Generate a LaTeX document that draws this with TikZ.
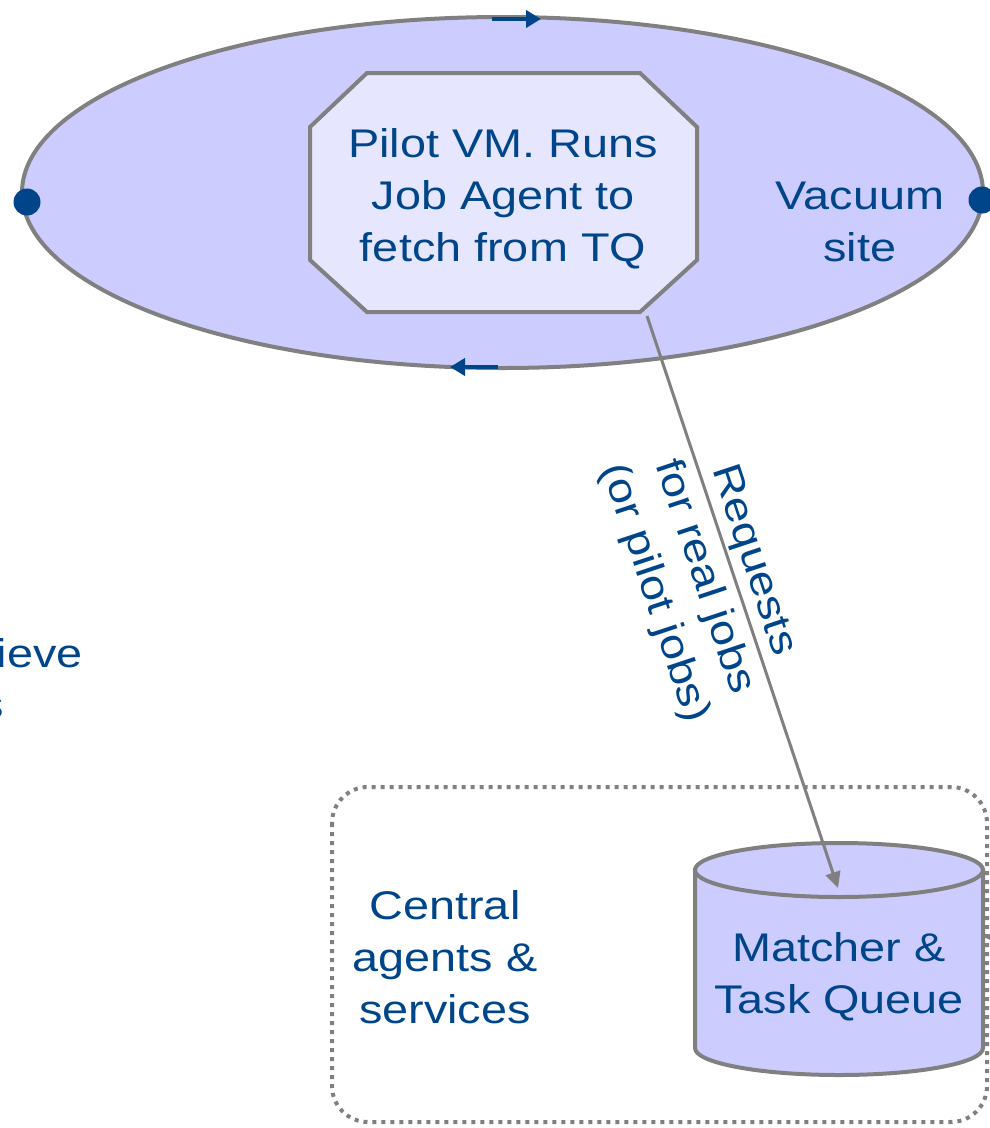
\documentclass[tikz,border=0pt]{standalone}
\usepackage{fontspec}
\setmainfont[FakeStretch=1.17]{Liberation Sans}
\usetikzlibrary{arrows.meta,shapes.geometric}
\definecolor{txtblue}{RGB}{0,69,138}
\definecolor{edgegray}{RGB}{128,128,128}
\definecolor{vacfill}{RGB}{204,204,255}
\definecolor{pilotfill}{RGB}{230,230,255}
\tikzset{
  lbl/.style={text=txtblue, font=\fontsize{40}{52}\selectfont, align=center, inner sep=0pt},
  shapeedge/.style={draw=edgegray, line width=4pt},
  flowarrow/.style={draw=txtblue, line width=4pt, -{Triangle[length=15pt,width=17pt]}},
  reqarrow/.style={draw=edgegray, line width=3pt, -{Triangle[length=16pt,width=15pt]}},
  dotbox/.style={draw=edgegray, line width=4pt, dash pattern=on 4pt off 5pt, rounded corners=36pt},
}
\begin{document}
\begin{tikzpicture}[x=1pt,y=-1pt]
\useasboundingbox (0,0) rectangle (989,1128);
% vacuum site ellipse
\node[ellipse, shapeedge, fill=vacfill, minimum width=961pt, minimum height=351pt, inner sep=0pt] (vac) at (502.5,192.5) {};
\node[lbl] (vaclbl) at (860,222) {Vacuum\\site};
% pilot VM octagon
\filldraw[shapeedge, fill=pilotfill, line join=miter] (367,73) -- (640,73) -- (697,127) -- (697,260) -- (640,312) -- (367,312) -- (310,260) -- (310,127) -- cycle;
\node[lbl] (pilot) at (503,199) {Pilot VM. Runs\\Job Agent to\\fetch from TQ};
% dots on ellipse
\fill[txtblue] (27,202) circle (13.5pt);
\fill[txtblue] (982,200) circle (13.5pt);
% circulation arrows
\coordinate (ta1) at (492,19);
\coordinate (ta2) at (541,19);
\draw[flowarrow] (ta1) -- (ta2);
\coordinate (ba1) at (498,367);
\coordinate (ba2) at (450,367);
\draw[flowarrow] (ba1) -- (ba2);
% partial left text
\node[lbl, anchor=base east] (lt1) at (83,667) {ieve};
\node[lbl, anchor=base east] (lt2) at (4,718) {s};
% central agents box
\draw[dotbox] (332,787) rectangle (987,1122);
\node[lbl] (central) at (445,957) {Central\\agents \&\\services};
% cylinder
\filldraw[shapeedge, fill=vacfill] (695,870) -- (695,1048) arc[start angle=180, end angle=0, x radius=144, y radius=27] -- (983,870) -- cycle;
\filldraw[shapeedge, fill=vacfill] (839,870) ellipse [x radius=144, y radius=27];
\node[lbl] (mtq) at (839,977) {Matcher \&\\Task Queue};
% request arrow
\coordinate (rs) at (647,316);
\coordinate (re) at (838,888);
\draw[reqarrow] (rs) -- (re);
\node[lbl, rotate=-71.6] (reqlbl) at (703,577) {Requests\\for real jobs\\(or pilot jobs)};
% incoming arrow at right edge of cylinder
\coordinate (inr) at (1040,937);
\coordinate (ine) at (984,937);
\draw[reqarrow] (inr) -- (ine);
\end{tikzpicture}
\end{document}
